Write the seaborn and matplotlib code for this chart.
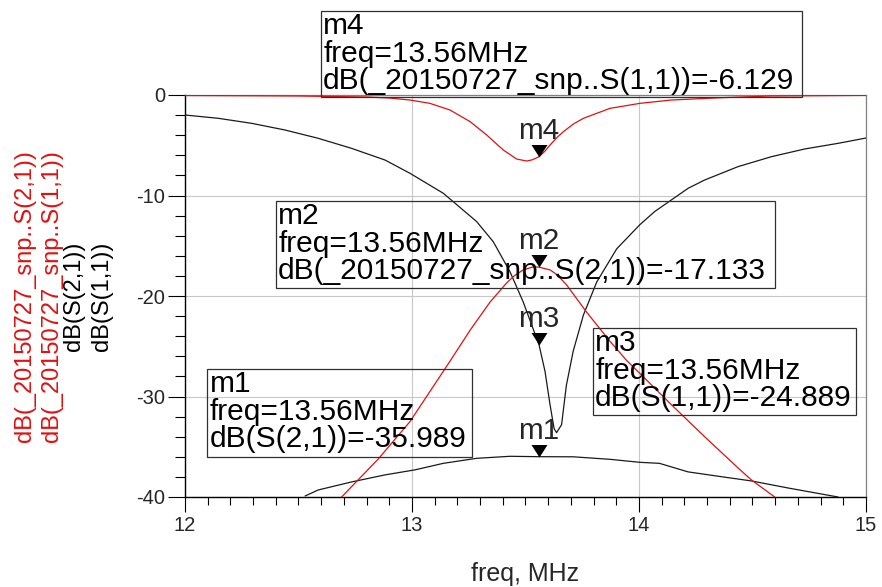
import numpy as np
import pandas as pd
import matplotlib
matplotlib.use("Agg")
import matplotlib.pyplot as plt
from matplotlib.path import Path
from matplotlib.patches import Rectangle
import seaborn as sns

# ---------------- data ----------------
# dB(S(1,1))  (black)
s11_f = [12.0, 12.147, 12.294, 12.44, 12.587, 12.734, 12.881, 12.991, 13.138, 13.285,
         13.358, 13.432, 13.49, 13.56, 13.586, 13.608, 13.626, 13.637, 13.659, 13.68,
         13.71, 13.755, 13.814, 13.902, 14.004, 14.069, 14.142, 14.216, 14.289, 14.436,
         14.583, 14.73, 14.877, 15.0]
s11_db = [-1.99, -2.32, -2.82, -3.48, -4.31, -5.31, -6.47, -7.79, -9.78, -12.6,
          -14.6, -17.6, -20.6, -24.889, -27.5, -30.8, -33.2, -33.6, -32.8, -28.9,
          -25.5, -21.9, -18.6, -15.3, -12.9, -11.6, -10.45, -9.29, -8.46, -7.13,
          -6.14, -5.37, -4.81, -4.28]

# dB(S(2,1))  (black)
s21_f = [12.529, 12.587, 12.734, 12.881, 13.013, 13.138, 13.285, 13.432, 13.56, 13.71,
         13.872, 14.004, 14.09, 14.216, 14.363, 14.495, 14.656, 14.877]
s21_db = [-39.9, -39.3, -38.5, -37.8, -37.3, -36.65, -36.15, -35.95, -35.989, -36.0,
          -36.25, -36.55, -36.65, -37.5, -37.98, -38.4, -39.1, -40.0]

# dB(_20150727_snp..S(1,1))  (red)
r11_f = [12.0, 12.5, 12.8, 12.9, 12.991, 13.079, 13.167, 13.256, 13.329, 13.402,
         13.461, 13.505, 13.53, 13.56, 13.585, 13.608, 13.64, 13.667, 13.71, 13.755,
         13.872, 14.004, 14.142, 14.36, 14.58, 15.0]
r11_db = [-0.05, -0.1, -0.2, -0.3, -0.5, -0.83, -1.49, -2.65, -3.98, -5.47,
          -6.37, -6.57, -6.45, -6.129, -5.6, -4.98, -4.2, -3.65, -2.9, -2.32,
          -1.33, -0.83, -0.5, -0.27, -0.1, -0.04]

# dB(_20150727_snp..S(2,1))  (red)
r21_f = [12.69, 12.852, 12.991, 13.079, 13.167, 13.256, 13.344, 13.417, 13.45, 13.49,
         13.535, 13.56, 13.608, 13.64, 13.681, 13.769, 13.872, 13.945, 14.004, 14.142,
         14.289, 14.436, 14.495, 14.598]
r21_db = [-40.0, -36.2, -32.5, -29.5, -26.5, -23.4, -20.6, -18.7, -18.0, -17.4,
          -17.1, -17.133, -17.4, -17.9, -18.9, -21.6, -24.5, -26.4, -27.7, -30.8,
          -34.0, -37.1, -38.3, -40.0]

# markers
marker_names = ["m1", "m2", "m3", "m4"]
marker_freq = [13.56, 13.56, 13.56, 13.56]
marker_vals = [-35.989, -17.133, -24.889, -6.129]
marker_lines = [
    ["m1", "freq=13.56MHz", "dB(S(2,1))=-35.989"],
    ["m2", "freq=13.56MHz", "dB(_20150727_snp..S(2,1))=-17.133"],
    ["m3", "freq=13.56MHz", "dB(S(1,1))=-24.889"],
    ["m4", "freq=13.56MHz", "dB(_20150727_snp..S(1,1))=-6.129"],
]

ylabel_lines = ["dB(_20150727_snp..S(2,1))", "dB(_20150727_snp..S(1,1))",
                "dB(S(2,1))", "dB(S(1,1))"]
xlabel = "freq, MHz"
x_ticks = [12, 13, 14, 15]
y_ticks = [0, -10, -20, -30, -40]

# ---------------- style ----------------
sns.set_style("ticks")
plt.rcParams["font.family"] = ["Liberation Sans", "DejaVu Sans"]

W, H = 882, 587
fig = plt.figure(figsize=(W / 100, H / 100), dpi=100)

def fx(px):
    return px / W

def fy(py):
    return 1 - py / H

L, R, T, B = 185, 866, 95, 497
ax = fig.add_axes([fx(L), fy(B), fx(R) - fx(L), fy(T) - fy(B)])
ax.set_facecolor("white")

RED = "#e01010"
BLK = "#1a1a1a"

sns.lineplot(x=s21_f, y=s21_db, color=BLK, lw=0.9, ax=ax, legend=False, zorder=3)
sns.lineplot(x=s11_f, y=s11_db, color=BLK, lw=0.9, ax=ax, legend=False, zorder=3)
sns.lineplot(x=r21_f, y=r21_db, color=RED, lw=0.9, ax=ax, legend=False, zorder=3)
sns.lineplot(x=r11_f, y=r11_db, color=RED, lw=0.9, ax=ax, legend=False, zorder=3)

ax.set_xlim(12, 15)
ax.set_ylim(-40, 0)
ax.set_xticks(x_ticks)
ax.set_yticks(y_ticks)
ax.set_xticks(np.arange(12, 15.0001, 0.1), minor=True)
ax.set_yticks(np.arange(-40, 0.0001, 2), minor=True)
ax.set_xticklabels([str(t) for t in x_ticks])
ax.set_yticklabels([str(t) for t in y_ticks])
ax.tick_params(axis="x", which="major", length=10.8, width=0.8, direction="out",
               labelsize=14.5, pad=3, color="black")
ax.tick_params(axis="x", which="minor", length=6, width=0.8, direction="out", color="black")
ax.tick_params(axis="y", which="major", length=12.2, width=0.8, direction="out",
               labelsize=14.5, pad=2, color="black")
ax.tick_params(axis="y", which="minor", length=7.2, width=0.8, direction="out", color="black")

ax.grid(True, which="major", color="#c8c8c8", lw=0.8, zorder=0)
ax.set_axisbelow(True)
for side in ["left", "bottom"]:
    ax.spines[side].set_color("black")
    ax.spines[side].set_linewidth(1.0)
for side in ["top", "right"]:
    ax.spines[side].set_color("#808080")
    ax.spines[side].set_linewidth(0.9)

ax.set_xlabel(xlabel, fontsize=18)
ax.xaxis.set_label_coords(0.5, -(562 - B) / (B - T))
ax.xaxis.label.set_va("top")
ax.set_ylabel("")

# y label lines
ycols = [RED, RED, "black", "black"]
yxs = [25, 52, 74, 102]
for txt, c, xp in zip(ylabel_lines, ycols, yxs):
    fig.text(fx(xp), fy(296), txt, rotation=90, color=c, fontsize=17,
             ha="center", va="center")

# marker triangles (tip at the data point)
tri = Path([(0, 0), (-0.64, 1), (0.64, 1), (0, 0)],
           [Path.MOVETO, Path.LINETO, Path.LINETO, Path.CLOSEPOLY])
ax.plot(marker_freq, marker_vals, linestyle="none", marker=tri, ms=18,
        color="black", mew=0, zorder=5, clip_on=False)
for n, f, v in zip(marker_names, marker_freq, marker_vals):
    ax.annotate(n, xy=(f, v), xytext=(-0.5, 13), textcoords="offset points",
                ha="center", va="baseline", fontsize=21.3, zorder=6)

# marker readout boxes (pixel geometry)
boxes = {
    "m1": (207, 369, 472, 457),
    "m2": (275.7, 200.7, 774.7, 287.7),
    "m3": (592.7, 327.7, 856.3, 415),
    "m4": (320.7, 10.7, 801.7, 97),
}
for lines in marker_lines:
    x0, y0, x1, y1 = boxes[lines[0]]
    fig.patches.append(Rectangle((fx(x0), fy(y1)), fx(x1) - fx(x0), fy(y0) - fy(y1),
                                 transform=fig.transFigure, fill=False,
                                 edgecolor="#303030", lw=0.9, zorder=10))
    for k, (line, off) in enumerate(zip(lines, [23, 51, 78])):
        fig.text(fx(x0 + 2.5), fy(y0 + off), line, fontsize=21.5,
                 ha="left", va="baseline", color="black", zorder=11)

fig.savefig("out.png", dpi=100)
